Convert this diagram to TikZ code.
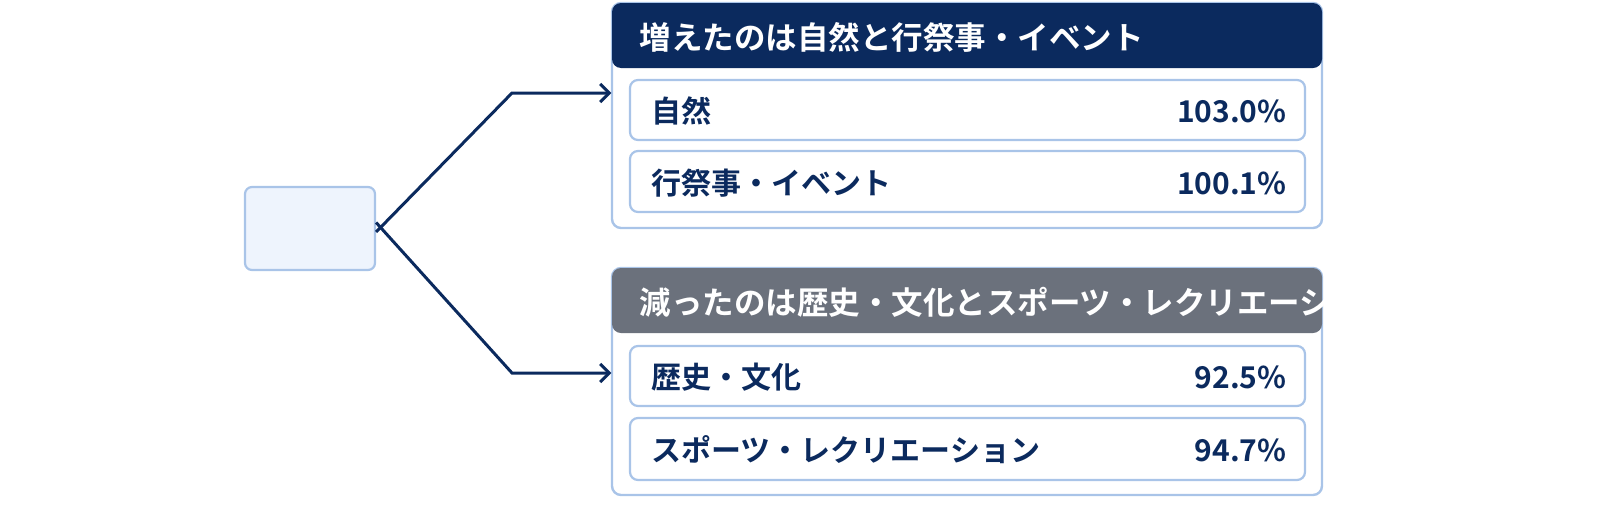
\documentclass[tikz,border=0pt]{standalone}
\usetikzlibrary{arrows.meta}
\usepackage{fontspec}
\newfontfamily\cjk{Noto Sans CJK JP}[BoldFont={* Bold}]
\begin{document}
\begin{tikzpicture}[x=1pt,y=-1pt,
  edge/.style={draw=navy,line width=3pt},
  row/.style={draw=lineblue,line width=2.2pt,fill=white,rounded corners=8pt},
  lab/.style={anchor=west,font=\cjk\bfseries\fontsize{30}{36}\selectfont,text=navy},
  val/.style={anchor=east,font=\cjk\bfseries\fontsize{30}{36}\selectfont,text=navy},
  head/.style={anchor=west,font=\cjk\bfseries\fontsize{31.5}{37}\selectfont,text=white}]
\definecolor{navy}{HTML}{0B2A5E}
\definecolor{lineblue}{HTML}{A9C4E8}
\definecolor{gray1}{HTML}{6B717C}
\definecolor{pale}{HTML}{EEF4FD}
\useasboundingbox (0,0) rectangle (1600,509);
% left box
\node[draw=lineblue,line width=2.2pt,fill=pale,rounded corners=7pt,minimum width=130pt,minimum height=83pt] (src) at (310,228.5) {};
% top panel
\draw[lineblue,line width=2.4pt,fill=white,rounded corners=9pt] (612,3) rectangle (1322,228);
\fill[navy,rounded corners=9pt] (612,3) rectangle (1322,68);
\node[inner sep=0] (tp) at (612,93) {};
\node[head] (th) at (636,37) {増えたのは自然と行祭事・イベント};
\draw[row] (630,80) rectangle (1305,140);
\node[lab] (l1) at (648,111) {自然};
\node[val] (v1) at (1290,111) {103.0\%};
\draw[row] (630,151) rectangle (1305,212);
\node[lab] (l2) at (648,183) {行祭事・イベント};
\node[val] (v2) at (1290,183) {100.1\%};
% bottom panel
\draw[lineblue,line width=2.4pt,fill=white,rounded corners=9pt] (612,268) rectangle (1322,495);
\fill[gray1,rounded corners=9pt] (612,268) rectangle (1322,333);
\node[inner sep=0] (bp) at (612,373) {};
\node[head] (bh) at (636,302) {減ったのは歴史・文化とスポーツ・レクリエーション};
\draw[row] (630,346) rectangle (1305,406);
\node[lab] (l3) at (648,377) {歴史・文化};
\node[val] (v3) at (1290,377) {92.5\%};
\draw[row] (630,418) rectangle (1305,480);
\node[lab] (l4) at (648,450) {スポーツ・レクリエーション};
\node[val] (v4) at (1290,450) {94.7\%};
% connectors
\coordinate (k1) at (512,93);
\coordinate (k2) at (512,373);
\draw[edge,-{Straight Barb[length=9pt,width=18pt]}] ([yshift=-3.5pt]src.east) -- (k1) -- ([xshift=-8pt]tp);
\draw[edge,-{Straight Barb[length=9pt,width=18pt]}] ([yshift=6pt]src.east) -- (k2) -- ([xshift=-8pt]bp);
\end{tikzpicture}
\end{document}
